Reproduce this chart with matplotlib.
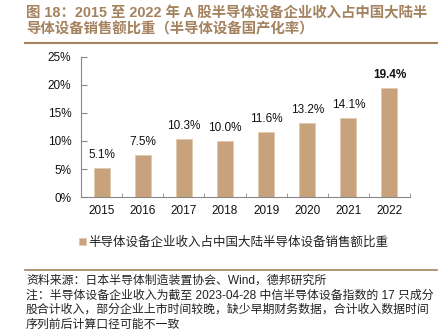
import matplotlib.pyplot as plt
from matplotlib.lines import Line2D

#%%-------------------- Données ------------------------------------------------
years = ["2015", "2016", "2017", "2018", "2019", "2020", "2021", "2022"]
ratio = [5.1, 7.5, 10.3, 10.0, 11.6, 13.2, 14.1, 19.4]  # en %
value_labels = ["5.1%", "7.5%", "10.3%", "10.0%", "11.6%", "13.2%", "14.1%", "19.4%"]
yticks = [0, 5, 10, 15, 20, 25]
ytick_labels = ["0%", "5%", "10%", "15%", "20%", "25%"]

title_l1 = "图 18：2015 至 2022 年 A 股半导体设备企业收入占中国大陆半"
title_l2 = "导体设备销售额比重（半导体设备国产化率）"
legend_label = "半导体设备企业收入占中国大陆半导体设备销售额比重"
source_lines = [
    "资料来源：日本半导体制造装置协会、Wind，德邦研究所",
    "注：半导体设备企业收入为截至 2023-04-28 中信半导体设备指数的 17 只成分",
    "股合计收入，部分企业上市时间较晚，缺少早期财务数据，合计收入数据时间",
    "序列前后计算口径可能不一致",
]

plt.rcParams['font.family'] = ['Liberation Sans', 'Noto Sans CJK SC', 'DejaVu Sans']

bar_color = "#C8A27D"
brown = "#A4825E"
text_dark = "#222222"

#%%-------------------- Figure -------------------------------------------------
fig = plt.figure(figsize=(4.42, 3.30), dpi=100)
ax = fig.add_axes([81/442, 1-197/330, (410-81)/442, (197-57)/330])

x = range(len(years))
bars = ax.bar(x, ratio, width=0.39, color=bar_color, edgecolor="#E2C9AE", linewidth=0.6)

for i, (b, lab) in enumerate(zip(bars, value_labels)):
    ax.annotate(lab, (b.get_x() + b.get_width()/2, b.get_height()),
                xytext=(0, 5), textcoords="offset points", ha="center", va="bottom",
                fontsize=8.5, color="#111111",
                fontweight="bold" if i == len(years)-1 else "normal")

ax.set_xlim(-0.5, len(years) - 0.5)
ax.set_ylim(0, 25)
ax.set_yticks(yticks)
ax.set_yticklabels(ytick_labels)
ax.set_xticks(list(x))
ax.set_xticklabels(years)
ax.set_xticks([i + 0.5 for i in range(-1, len(years))], minor=True)

ax.tick_params(axis="y", direction="in", length=4, pad=7, labelsize=8.5,
               colors="#888888", labelcolor="#111111")
ax.tick_params(axis="x", which="major", length=0, pad=6, labelsize=8.5, labelcolor="#111111")
ax.tick_params(axis="x", which="minor", direction="in", length=3, colors="#888888")

for s in ["top", "right"]:
    ax.spines[s].set_visible(False)
for s in ["left", "bottom"]:
    ax.spines[s].set_color("#888888")
    ax.spines[s].set_linewidth(0.8)

# légende
leg = ax.legend([bars[0]], [legend_label], loc="center",
                bbox_to_anchor=(234/442, 1-243/330), bbox_transform=fig.transFigure,
                frameon=False, fontsize=9, handlelength=0.5, handleheight=0.5,
                handletextpad=0.25)
for t in leg.get_texts():
    t.set_color(text_dark)

# titre
fig.text(26/442, 1-13/330, title_l1, fontsize=10.4, fontweight="bold", color=brown,
         ha="left", va="center")
fig.text(26/442, 1-29/330, title_l2, fontsize=10.4, fontweight="bold", color=brown,
         ha="left", va="center")
fig.add_artist(Line2D([25/442, 437/442], [1-43/330, 1-43/330], color=brown, linewidth=1.5))

# sources
fig.add_artist(Line2D([25/442, 437/442], [1-270/330, 1-270/330], color=brown, linewidth=1.2))
for k, line in enumerate(source_lines):
    fig.text(26/442, 1-(281 + 14.5*k)/330, line, fontsize=8.55, color=text_dark,
             ha="left", va="center")

fig.savefig("out.png", dpi=100)
